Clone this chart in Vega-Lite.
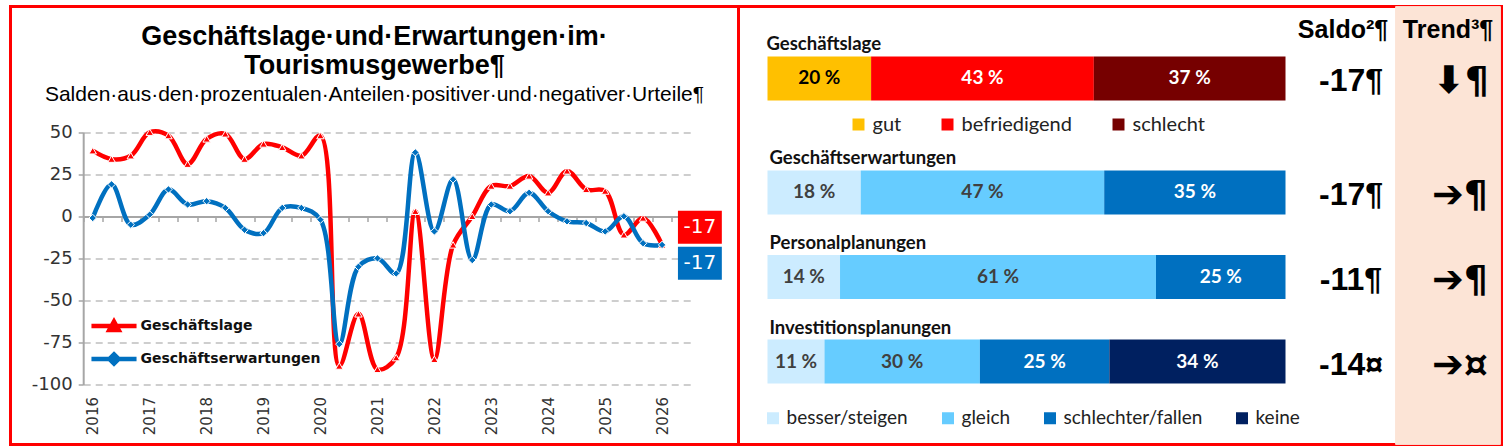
{
  "$schema": "https://vega.github.io/schema/vega-lite/v6.json",
  "background": "white",
  "padding": {"left": 8.5, "top": 4.5, "right": 0, "bottom": 0},
  "bounds": "flush",
  "spacing": 0,
  "config": {
    "locale": {"number": {"decimal": ",", "thousands": ".", "grouping": [3], "currency": ["", " €"], "percent": " %", "minus": "-"}},
    "legend": {"padding": 0}
  },
  "datasets": {
    "lines": [
      {"date": "2016-01-01", "series": "Geschäftslage", "value": 39},
      {"date": "2016-05-01", "series": "Geschäftslage", "value": 34},
      {"date": "2016-09-01", "series": "Geschäftslage", "value": 36},
      {"date": "2017-01-01", "series": "Geschäftslage", "value": 50},
      {"date": "2017-05-01", "series": "Geschäftslage", "value": 48},
      {"date": "2017-09-01", "series": "Geschäftslage", "value": 31},
      {"date": "2018-01-01", "series": "Geschäftslage", "value": 46},
      {"date": "2018-05-01", "series": "Geschäftslage", "value": 49},
      {"date": "2018-09-01", "series": "Geschäftslage", "value": 34},
      {"date": "2019-01-01", "series": "Geschäftslage", "value": 43},
      {"date": "2019-05-01", "series": "Geschäftslage", "value": 41},
      {"date": "2019-09-01", "series": "Geschäftslage", "value": 36},
      {"date": "2020-01-01", "series": "Geschäftslage", "value": 48},
      {"date": "2020-05-01", "series": "Geschäftslage", "value": -89},
      {"date": "2020-09-01", "series": "Geschäftslage", "value": -58},
      {"date": "2021-01-01", "series": "Geschäftslage", "value": -91},
      {"date": "2021-05-01", "series": "Geschäftslage", "value": -84},
      {"date": "2021-09-01", "series": "Geschäftslage", "value": 3},
      {"date": "2022-01-01", "series": "Geschäftslage", "value": -85},
      {"date": "2022-05-01", "series": "Geschäftslage", "value": -17},
      {"date": "2022-09-01", "series": "Geschäftslage", "value": 0},
      {"date": "2023-01-01", "series": "Geschäftslage", "value": 18},
      {"date": "2023-05-01", "series": "Geschäftslage", "value": 18},
      {"date": "2023-09-01", "series": "Geschäftslage", "value": 24},
      {"date": "2024-01-01", "series": "Geschäftslage", "value": 14},
      {"date": "2024-05-01", "series": "Geschäftslage", "value": 27},
      {"date": "2024-09-01", "series": "Geschäftslage", "value": 16},
      {"date": "2025-01-01", "series": "Geschäftslage", "value": 15},
      {"date": "2025-05-01", "series": "Geschäftslage", "value": -11},
      {"date": "2025-09-01", "series": "Geschäftslage", "value": -1},
      {"date": "2026-01-01", "series": "Geschäftslage", "value": -17},
      {"date": "2016-01-01", "series": "Geschäftserwartungen", "value": -1},
      {"date": "2016-05-01", "series": "Geschäftserwartungen", "value": 19},
      {"date": "2016-09-01", "series": "Geschäftserwartungen", "value": -5},
      {"date": "2017-01-01", "series": "Geschäftserwartungen", "value": 1},
      {"date": "2017-05-01", "series": "Geschäftserwartungen", "value": 16},
      {"date": "2017-09-01", "series": "Geschäftserwartungen", "value": 7},
      {"date": "2018-01-01", "series": "Geschäftserwartungen", "value": 9},
      {"date": "2018-05-01", "series": "Geschäftserwartungen", "value": 5},
      {"date": "2018-09-01", "series": "Geschäftserwartungen", "value": -8},
      {"date": "2019-01-01", "series": "Geschäftserwartungen", "value": -10},
      {"date": "2019-05-01", "series": "Geschäftserwartungen", "value": 5},
      {"date": "2019-09-01", "series": "Geschäftserwartungen", "value": 5},
      {"date": "2020-01-01", "series": "Geschäftserwartungen", "value": -2},
      {"date": "2020-05-01", "series": "Geschäftserwartungen", "value": -76},
      {"date": "2020-09-01", "series": "Geschäftserwartungen", "value": -30},
      {"date": "2021-01-01", "series": "Geschäftserwartungen", "value": -25},
      {"date": "2021-05-01", "series": "Geschäftserwartungen", "value": -34},
      {"date": "2021-09-01", "series": "Geschäftserwartungen", "value": 38},
      {"date": "2022-01-01", "series": "Geschäftserwartungen", "value": -9},
      {"date": "2022-05-01", "series": "Geschäftserwartungen", "value": 22},
      {"date": "2022-09-01", "series": "Geschäftserwartungen", "value": -26},
      {"date": "2023-01-01", "series": "Geschäftserwartungen", "value": 7},
      {"date": "2023-05-01", "series": "Geschäftserwartungen", "value": 3},
      {"date": "2023-09-01", "series": "Geschäftserwartungen", "value": 14},
      {"date": "2024-01-01", "series": "Geschäftserwartungen", "value": 3},
      {"date": "2024-05-01", "series": "Geschäftserwartungen", "value": -3},
      {"date": "2024-09-01", "series": "Geschäftserwartungen", "value": -4},
      {"date": "2025-01-01", "series": "Geschäftserwartungen", "value": -9},
      {"date": "2025-05-01", "series": "Geschäftserwartungen", "value": 0},
      {"date": "2025-09-01", "series": "Geschäftserwartungen", "value": -16},
      {"date": "2026-01-01", "series": "Geschäftserwartungen", "value": -17}
    ],
    "endlabels": [
      {"date": "2026-01-01", "series": "Geschäftslage", "value": -17},
      {"date": "2026-01-01", "series": "Geschäftserwartungen", "value": -17}
    ],
    "bars": [
      {"item": "Geschäftslage", "cat": "gut", "pct": 0.20, "idx": 1},
      {"item": "Geschäftslage", "cat": "befriedigend", "pct": 0.43, "idx": 2},
      {"item": "Geschäftslage", "cat": "schlecht", "pct": 0.37, "idx": 3},
      {"item": "Geschäftserwartungen", "cat": "besser/steigen", "pct": 0.18, "idx": 1},
      {"item": "Geschäftserwartungen", "cat": "gleich", "pct": 0.47, "idx": 2},
      {"item": "Geschäftserwartungen", "cat": "schlechter/fallen", "pct": 0.35, "idx": 3},
      {"item": "Personalplanungen", "cat": "besser/steigen", "pct": 0.14, "idx": 1},
      {"item": "Personalplanungen", "cat": "gleich", "pct": 0.61, "idx": 2},
      {"item": "Personalplanungen", "cat": "schlechter/fallen", "pct": 0.25, "idx": 3},
      {"item": "Investitionsplanungen", "cat": "besser/steigen", "pct": 0.11, "idx": 1},
      {"item": "Investitionsplanungen", "cat": "gleich", "pct": 0.30, "idx": 2},
      {"item": "Investitionsplanungen", "cat": "schlechter/fallen", "pct": 0.25, "idx": 3},
      {"item": "Investitionsplanungen", "cat": "keine", "pct": 0.34, "idx": 4}
    ],
    "cols": [
      {"item": "Geschäftslage", "col": "Saldo²¶", "text": "-17¶"},
      {"item": "Geschäftslage", "col": "Trend³¶", "text": "⬇¶"},
      {"item": "Geschäftserwartungen", "col": "Saldo²¶", "text": "-17¶"},
      {"item": "Geschäftserwartungen", "col": "Trend³¶", "text": "➔¶"},
      {"item": "Personalplanungen", "col": "Saldo²¶", "text": "-11¶"},
      {"item": "Personalplanungen", "col": "Trend³¶", "text": "➔¶"},
      {"item": "Investitionsplanungen", "col": "Saldo²¶", "text": "-14¤"},
      {"item": "Investitionsplanungen", "col": "Trend³¶", "text": "➔¤"}
    ]
  },
  "hconcat": [
    {
      "width": 728,
      "height": 438,
      "view": {"stroke": "#FF0000", "strokeWidth": 3},
      "title": {
        "text": ["Geschäftslage·und·Erwartungen·im·", "Tourismusgewerbe¶"],
        "subtitle": "Salden·aus·den·prozentualen·Anteilen·positiver·und·negativer·Urteile¶",
        "anchor": "middle",
        "frame": "group",
        "offset": -99,
        "font": "Liberation Sans",
        "fontSize": 27,
        "fontWeight": "bold",
        "lineHeight": 29,
        "color": "#000000",
        "subtitleFont": "Liberation Sans",
        "subtitleFontSize": 21,
        "subtitleColor": "#000000",
        "subtitlePadding": 4
      },
      "encoding": {
        "x": {
          "field": "date",
          "type": "temporal",
          "title": null,
          "scale": {
            "type": "utc",
            "domain": [{"year": 2015, "month": 11, "date": 1, "utc": true}, {"year": 2026, "month": 7, "date": 1, "utc": true}],
            "range": [72.7, 679.8]
          },
          "axis": {
            "orient": "bottom",
            "offset": -228,
            "title": null,
            "grid": false,
            "values": [
              {"year": 2015, "month": 11, "date": 1, "utc": true},
              {"year": 2016, "month": 3, "date": 1, "utc": true},
              {"year": 2016, "month": 7, "date": 1, "utc": true},
              {"year": 2016, "month": 11, "date": 1, "utc": true},
              {"year": 2017, "month": 3, "date": 1, "utc": true},
              {"year": 2017, "month": 7, "date": 1, "utc": true},
              {"year": 2017, "month": 11, "date": 1, "utc": true},
              {"year": 2018, "month": 3, "date": 1, "utc": true},
              {"year": 2018, "month": 7, "date": 1, "utc": true},
              {"year": 2018, "month": 11, "date": 1, "utc": true},
              {"year": 2019, "month": 3, "date": 1, "utc": true},
              {"year": 2019, "month": 7, "date": 1, "utc": true},
              {"year": 2019, "month": 11, "date": 1, "utc": true},
              {"year": 2020, "month": 3, "date": 1, "utc": true},
              {"year": 2020, "month": 7, "date": 1, "utc": true},
              {"year": 2020, "month": 11, "date": 1, "utc": true},
              {"year": 2021, "month": 3, "date": 1, "utc": true},
              {"year": 2021, "month": 7, "date": 1, "utc": true},
              {"year": 2021, "month": 11, "date": 1, "utc": true},
              {"year": 2022, "month": 3, "date": 1, "utc": true},
              {"year": 2022, "month": 7, "date": 1, "utc": true},
              {"year": 2022, "month": 11, "date": 1, "utc": true},
              {"year": 2023, "month": 3, "date": 1, "utc": true},
              {"year": 2023, "month": 7, "date": 1, "utc": true},
              {"year": 2023, "month": 11, "date": 1, "utc": true},
              {"year": 2024, "month": 3, "date": 1, "utc": true},
              {"year": 2024, "month": 7, "date": 1, "utc": true},
              {"year": 2024, "month": 11, "date": 1, "utc": true},
              {"year": 2025, "month": 3, "date": 1, "utc": true},
              {"year": 2025, "month": 7, "date": 1, "utc": true},
              {"year": 2025, "month": 11, "date": 1, "utc": true},
              {"year": 2026, "month": 3, "date": 1, "utc": true},
              {"year": 2026, "month": 7, "date": 1, "utc": true}
            ],
            "labelExpr": "utcmonth(datum.value) == 10 ? '' + (utcyear(datum.value) + 1) : ''",
            "labelOffset": 9.5,
            "labelPadding": 175,
            "labelAngle": -90,
            "labelAlign": "right",
            "labelBaseline": "middle",
            "labelFont": "DejaVu Sans",
            "labelFontSize": 15,
            "labelColor": "#333333",
            "labelOverlap": false,
            "labelBound": false,
            "labelFlush": false,
            "domainColor": "#A6A6A6",
            "domainWidth": 2,
            "tickColor": "#A6A6A6",
            "tickWidth": 1.5,
            "tickSize": 5
          }
        },
        "y": {
          "field": "value",
          "type": "quantitative",
          "title": null,
          "scale": {"domain": [-100, 50], "range": [378, 125.7], "nice": false, "zero": false},
          "axis": {
            "orient": "left",
            "offset": -72.7,
            "title": null,
            "values": [-100, -75, -50, -25, 0, 25, 50],
            "format": "d",
            "grid": true,
            "gridColor": "#BFBFBF",
            "gridDash": [7, 5],
            "gridWidth": 1.5,
            "domainColor": "#A6A6A6",
            "domainWidth": 2,
            "tickColor": "#A6A6A6",
            "tickWidth": 1.5,
            "tickSize": 5,
            "labelPadding": 6,
            "labelFont": "DejaVu Sans",
            "labelFontSize": 18,
            "labelColor": "#333333"
          }
        }
      },
      "layer": [
        {
          "data": {"name": "lines"},
          "mark": {"type": "line", "interpolate": "catmull-rom", "strokeWidth": 4.5},
          "encoding": {
            "color": {
              "field": "series",
              "type": "nominal",
              "scale": {"domain": ["Geschäftslage", "Geschäftserwartungen"], "range": ["#FF0000", "#0070C0"]},
              "legend": {
                "orient": "none",
                "legendX": 91,
                "legendY": 307,
                "title": null,
                "direction": "vertical",
                "symbolType": "M-2.2,0H2.2",
                "symbolSize": 420,
                "symbolStrokeWidth": 4.5,
                "labelFont": "DejaVu Sans",
                "labelFontSize": 14,
                "labelFontWeight": "bold",
                "labelColor": "#111111",
                "labelLimit": 0,
                "labelOffset": 14,
                "rowPadding": 5,
                "padding": 0,
                "encode": {
                  "symbols": {
                    "update": {
                      "shape": {"signal": "datum.value === 'Geschäftslage' ? 'M-2.2,0H2.2M-0.45,0.38L0,-0.42L0.45,0.38Z' : 'M-2.2,0H2.2M0,-0.45L0.45,0L0,0.45L-0.45,0Z'"},
                      "fill": {"signal": "datum.value === 'Geschäftslage' ? '#FF0000' : '#0070C0'"}
                    }
                  }
                }
              }
            }
          }
        },
        {
          "data": {"name": "lines"},
          "transform": [{"filter": {"field": "series", "equal": "Geschäftslage"}}],
          "mark": {"type": "point", "shape": "triangle-up", "filled": true, "opacity": 1, "fill": "#FF0000", "stroke": "#FFFFFF", "strokeWidth": 1, "size": 55}
        },
        {
          "data": {"name": "lines"},
          "transform": [{"filter": {"field": "series", "equal": "Geschäftserwartungen"}}],
          "mark": {"type": "point", "shape": "diamond", "filled": true, "opacity": 1, "fill": "#0070C0", "stroke": "#FFFFFF", "strokeWidth": 1, "size": 55}
        },
        {
          "data": {"name": "endlabels"},
          "transform": [{"filter": {"field": "series", "equal": "Geschäftslage"}}],
          "mark": {"type": "point", "shape": "M-1.33,-1H1.33V1H-1.33Z", "size": 1089, "filled": true, "opacity": 1, "fill": "#FF0000", "strokeWidth": 0, "xOffset": 37.8, "yOffset": -17.7}
        },
        {
          "data": {"name": "endlabels"},
          "transform": [{"filter": {"field": "series", "equal": "Geschäftserwartungen"}}],
          "mark": {"type": "point", "shape": "M-1.33,-1H1.33V1H-1.33Z", "size": 1089, "filled": true, "opacity": 1, "fill": "#0070C0", "strokeWidth": 0, "xOffset": 37.8, "yOffset": 18.3}
        },
        {
          "data": {"name": "endlabels"},
          "transform": [{"filter": {"field": "series", "equal": "Geschäftslage"}}],
          "mark": {"type": "text", "font": "DejaVu Sans", "fontSize": 20, "color": "#FFFFFF", "baseline": "middle", "align": "center", "dx": 37.8, "dy": -17.7},
          "encoding": {"text": {"field": "value", "type": "quantitative", "format": "d"}}
        },
        {
          "data": {"name": "endlabels"},
          "transform": [{"filter": {"field": "series", "equal": "Geschäftserwartungen"}}],
          "mark": {"type": "text", "font": "DejaVu Sans", "fontSize": 20, "color": "#FFFFFF", "baseline": "middle", "align": "center", "dx": 37.8, "dy": 18.3},
          "encoding": {"text": {"field": "value", "type": "quantitative", "format": "d"}}
        }
      ]
    },
    {
      "width": 763,
      "height": 438,
      "view": {"stroke": "#FF0000", "strokeWidth": 3},
      "resolve": {"scale": {"x": "independent", "color": "independent"}},
      "layer": [
        {
          "encoding": {
            "x": {
              "field": "col", "type": "nominal", "title": null,
              "scale": {"type": "band", "domain": ["Saldo²¶", "Trend³¶"], "range": [552, 762], "paddingInner": 0, "paddingOuter": 0},
              "axis": {"orient": "top", "offset": -31, "title": null, "domain": false, "ticks": false, "labelPadding": 0, "labelAngle": 0, "labelBaseline": "alphabetic", "labelFont": "Liberation Sans", "labelFontSize": 25, "labelFontWeight": "bold", "labelColor": "#000000", "labelLimit": 0}
            }
          },
          "layer": [
            {
              "data": {"name": "cols"},
              "transform": [{"filter": {"field": "col", "equal": "Trend³¶"}}],
              "mark": {"type": "rect", "color": "#FCE4D6", "opacity": 1}
            },
            {
              "data": {"name": "cols"},
              "transform": [{"filter": {"and": [{"field": "item", "equal": "Geschäftslage"}, {"field": "col", "equal": "Saldo²¶"}]}}],
              "mark": {"type": "text", "font": "Liberation Sans", "fontSize": 32, "fontWeight": "bold", "color": "#000000", "baseline": "middle", "align": "center", "dx": 8, "dy": 3, "yOffset": -29.5},
              "encoding": {
                "y": {"field": "item", "type": "nominal", "title": null, "scale": {"type": "band", "domain": ["Geschäftslage", "Geschäftserwartungen", "Personalplanungen", "Investitionsplanungen"], "range": [59.25, 397.25], "paddingInner": 0.4793, "paddingOuter": 0.2396}, "axis": null},
                "text": {"field": "text", "type": "nominal"}
              }
            },
            {
              "data": {"name": "cols"},
              "transform": [{"filter": {"and": [{"field": "item", "oneOf": ["Geschäftserwartungen", "Personalplanungen", "Investitionsplanungen"]}, {"field": "col", "equal": "Saldo²¶"}]}}],
              "mark": {"type": "text", "font": "Liberation Sans", "fontSize": 32, "fontWeight": "bold", "color": "#000000", "baseline": "middle", "align": "center", "dx": 8, "dy": 3},
              "encoding": {
                "y": {"field": "item", "type": "nominal", "title": null, "scale": {"type": "band", "domain": ["Geschäftslage", "Geschäftserwartungen", "Personalplanungen", "Investitionsplanungen"], "range": [59.25, 397.25], "paddingInner": 0.4793, "paddingOuter": 0.2396}, "axis": null},
                "text": {"field": "text", "type": "nominal"}
              }
            },
            {
              "data": {"name": "cols"},
              "transform": [{"filter": {"and": [{"field": "item", "equal": "Geschäftslage"}, {"field": "col", "equal": "Trend³¶"}]}}],
              "mark": {"type": "text", "font": "DejaVu Sans", "fontSize": 38, "fontWeight": "bold", "color": "#000000", "baseline": "middle", "align": "center", "dx": 13, "dy": 4, "yOffset": -29.5},
              "encoding": {
                "y": {"field": "item", "type": "nominal", "title": null, "scale": {"type": "band", "domain": ["Geschäftslage", "Geschäftserwartungen", "Personalplanungen", "Investitionsplanungen"], "range": [59.25, 397.25], "paddingInner": 0.4793, "paddingOuter": 0.2396}, "axis": null},
                "text": {"field": "text", "type": "nominal"}
              }
            },
            {
              "data": {"name": "cols"},
              "transform": [{"filter": {"and": [{"field": "item", "oneOf": ["Geschäftserwartungen", "Personalplanungen", "Investitionsplanungen"]}, {"field": "col", "equal": "Trend³¶"}]}}],
              "mark": {"type": "text", "font": "DejaVu Sans", "fontSize": 38, "fontWeight": "bold", "color": "#000000", "baseline": "middle", "align": "center", "dx": 12, "dy": 4},
              "encoding": {
                "y": {"field": "item", "type": "nominal", "title": null, "scale": {"type": "band", "domain": ["Geschäftslage", "Geschäftserwartungen", "Personalplanungen", "Investitionsplanungen"], "range": [59.25, 397.25], "paddingInner": 0.4793, "paddingOuter": 0.2396}, "axis": null},
                "text": {"field": "text", "type": "nominal"}
              }
            }
          ]
        },
        {
          "encoding": {
            "x": {"field": "pct", "type": "quantitative", "stack": "zero", "title": null, "scale": {"domain": [0, 1], "range": [29, 547], "nice": false, "zero": false}, "axis": null},
            "y": {"field": "item", "type": "nominal", "title": null, "scale": {"type": "band", "domain": ["Geschäftslage", "Geschäftserwartungen", "Personalplanungen", "Investitionsplanungen"], "range": [59.25, 397.25], "paddingInner": 0.4793, "paddingOuter": 0.2396}, "axis": null}
          },
          "layer": [
            {
              "data": {"name": "bars"},
              "transform": [{"filter": {"field": "item", "equal": "Geschäftslage"}}],
              "mark": {"type": "bar", "yOffset": -29.5},
              "encoding": {
                "color": {
                  "field": "cat", "type": "nominal",
                  "scale": {"domain": ["gut", "befriedigend", "schlecht"], "range": ["#FFC000", "#FF0000", "#760000"]},
                  "legend": {"orient": "none", "legendX": 110, "legendY": 108, "direction": "horizontal", "title": null, "symbolType": "square", "symbolSize": 144, "symbolStrokeWidth": 0, "symbolOpacity": 1, "labelFont": "Lato", "labelFontSize": 20, "labelColor": "#222222", "labelOffset": 4, "columnPadding": 36, "padding": 0}
                },
                "order": {"field": "idx", "type": "quantitative"}
              }
            },
            {
              "data": {"name": "bars"},
              "transform": [{"filter": {"field": "item", "equal": "Geschäftslage"}}],
              "mark": {"type": "text", "font": "Lato", "fontSize": 19, "fontWeight": "bold", "baseline": "middle", "align": "center", "yOffset": -29.5},
              "encoding": {
                "x": {"field": "pct", "type": "quantitative", "stack": "zero", "bandPosition": 0.5, "title": null, "scale": {"domain": [0, 1], "range": [29, 547], "nice": false, "zero": false}, "axis": null},
                "detail": {"field": "cat", "type": "nominal"},
                "order": {"field": "idx", "type": "quantitative"},
                "text": {"field": "pct", "type": "quantitative", "format": ".0%"},
                "color": {"condition": {"test": "datum.cat === 'gut'", "value": "#000000"}, "value": "#FFFFFF"}
              }
            },
            {
              "data": {"name": "bars"},
              "transform": [{"filter": {"and": [{"field": "item", "equal": "Geschäftslage"}, {"field": "idx", "equal": 1}]}}],
              "mark": {"type": "text", "font": "Lato", "fontSize": 18.5, "fontWeight": "bold", "color": "#111111", "baseline": "middle", "align": "left", "dx": -1, "dy": -34, "yOffset": -29.5},
              "encoding": {
                "x": {"datum": 0, "type": "quantitative"},
                "text": {"field": "item", "type": "nominal"}
              }
            }
          ]
        },
        {
          "encoding": {
            "x": {"field": "pct", "type": "quantitative", "stack": "zero", "title": null, "scale": {"domain": [0, 1], "range": [29, 547], "nice": false, "zero": false}, "axis": null},
            "y": {"field": "item", "type": "nominal", "title": null, "scale": {"type": "band", "domain": ["Geschäftslage", "Geschäftserwartungen", "Personalplanungen", "Investitionsplanungen"], "range": [59.25, 397.25], "paddingInner": 0.4793, "paddingOuter": 0.2396}, "axis": null}
          },
          "layer": [
            {
              "data": {"name": "bars"},
              "transform": [{"filter": {"field": "item", "oneOf": ["Geschäftserwartungen", "Personalplanungen", "Investitionsplanungen"]}}],
              "mark": {"type": "bar"},
              "encoding": {
                "color": {
                  "field": "cat", "type": "nominal",
                  "scale": {"domain": ["besser/steigen", "gleich", "schlechter/fallen", "keine"], "range": ["#CCECFF", "#66CCFF", "#0070C0", "#002060"]},
                  "legend": {"orient": "none", "legendX": 25, "legendY": 402, "direction": "horizontal", "title": null, "symbolType": "square", "symbolSize": 144, "symbolStrokeWidth": 0, "symbolOpacity": 1, "labelFont": "Lato", "labelFontSize": 19, "labelColor": "#222222", "labelOffset": 4, "columnPadding": 30, "padding": 0}
                },
                "order": {"field": "idx", "type": "quantitative"}
              }
            },
            {
              "data": {"name": "bars"},
              "transform": [{"filter": {"field": "item", "oneOf": ["Geschäftserwartungen", "Personalplanungen", "Investitionsplanungen"]}}],
              "mark": {"type": "text", "font": "Lato", "fontSize": 19, "fontWeight": "bold", "baseline": "middle", "align": "center"},
              "encoding": {
                "x": {"field": "pct", "type": "quantitative", "stack": "zero", "bandPosition": 0.5, "title": null, "scale": {"domain": [0, 1], "range": [29, 547], "nice": false, "zero": false}, "axis": null},
                "detail": {"field": "cat", "type": "nominal"},
                "order": {"field": "idx", "type": "quantitative"},
                "text": {"field": "pct", "type": "quantitative", "format": ".0%"},
                "color": {"condition": {"test": "datum.cat === 'besser/steigen' || datum.cat === 'gleich'", "value": "#404040"}, "value": "#FFFFFF"}
              }
            },
            {
              "data": {"name": "bars"},
              "transform": [{"filter": {"and": [{"field": "item", "oneOf": ["Geschäftserwartungen", "Personalplanungen", "Investitionsplanungen"]}, {"field": "idx", "equal": 1}]}}],
              "mark": {"type": "text", "font": "Lato", "fontSize": 18.5, "fontWeight": "bold", "color": "#111111", "baseline": "middle", "align": "left", "dx": 2, "dy": -34},
              "encoding": {
                "x": {"datum": 0, "type": "quantitative"},
                "text": {"field": "item", "type": "nominal"}
              }
            }
          ]
        }
      ]
    }
  ]
}
